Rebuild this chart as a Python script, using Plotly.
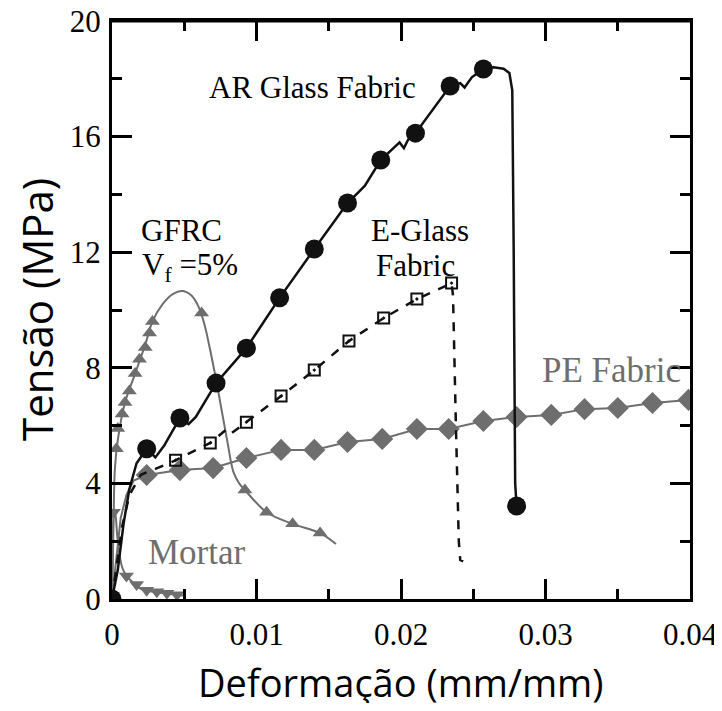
import plotly.graph_objects as go

# ---------------- data ----------------
ar_x = [0, 0.0004, 0.0008, 0.0012, 0.0017, 0.0024, 0.0030, 0.0036, 0.0047, 0.0053, 0.0058, 0.0072,
        0.0093, 0.0116, 0.0140, 0.0163, 0.0171, 0.0175, 0.0186, 0.0199, 0.0202, 0.0205, 0.0210,
        0.0234, 0.0241, 0.0244, 0.0249, 0.0257, 0.0264, 0.0271, 0.0275, 0.0277, 0.0278, 0.0279, 0.0280]
ar_y = [0, 1.0, 2.6, 3.8, 4.7, 5.2, 4.9, 5.3, 6.26, 6.05, 6.3, 7.47,
        8.68, 10.42, 12.11, 13.70, 14.1, 14.3, 15.19, 15.8, 15.6, 15.9, 16.12,
        17.75, 17.85, 17.7, 18.05, 18.34, 18.4, 18.35, 18.2, 17.6, 12.0, 4.0, 3.22]
ar_mx = [0, 0.0024, 0.0047, 0.0072, 0.0093, 0.0116, 0.0140, 0.0163, 0.0186, 0.0210, 0.0234, 0.0257, 0.0280]
ar_my = [0, 5.2, 6.26, 7.47, 8.68, 10.42, 12.11, 13.70, 15.19, 16.12, 17.75, 18.34, 3.22]

eg_x = [0, 0.0003, 0.0007, 0.0012, 0.0020, 0.0030, 0.0044, 0.0068, 0.0080, 0.0083, 0.0093,
        0.0117, 0.0140, 0.0164, 0.0188, 0.0211, 0.0235, 0.0236, 0.0238, 0.0240, 0.0241, 0.0243]
eg_y = [0, 1.0, 2.5, 3.6, 4.3, 4.5, 4.8, 5.40, 5.9, 5.75, 6.12,
        7.02, 7.92, 8.93, 9.72, 10.38, 10.93, 10.5, 6.0, 2.0, 1.35, 1.3]
eg_mx = [0.0044, 0.0068, 0.0093, 0.0117, 0.0140, 0.0164, 0.0188, 0.0211, 0.0235]
eg_my = [4.8, 5.40, 6.12, 7.02, 7.92, 8.93, 9.72, 10.38, 10.93]

pe_mx = [0.0024, 0.0047, 0.0070, 0.0093, 0.0117, 0.0140, 0.0163, 0.0187, 0.0211, 0.0233,
         0.0257, 0.0280, 0.0304, 0.0327, 0.0350, 0.0374, 0.0399]
pe_my = [4.29, 4.46, 4.53, 4.88, 5.16, 5.16, 5.43, 5.54, 5.88, 5.88,
         6.16, 6.30, 6.37, 6.57, 6.61, 6.78, 6.89]
pe_x = [0, 0.0003, 0.0006, 0.0010, 0.0015] + pe_mx + [0.0407]
pe_y = [0, 1.5, 2.8, 3.6, 4.1] + pe_my + [6.92]

gf_x = [0, 0.0001, 0.0002, 0.0004, 0.0009, 0.0016, 0.0023, 0.0028, 0.0035, 0.0042, 0.0049,
        0.0055, 0.0060, 0.0064, 0.0068, 0.0072, 0.0076, 0.0080, 0.0084, 0.0088, 0.0092,
        0.0107, 0.0125, 0.0144, 0.0155]
gf_y = [0, 2.5, 4.5, 5.5, 6.8, 7.8, 8.8, 9.6, 10.2, 10.55, 10.66,
        10.5, 10.1, 9.5, 8.6, 7.6, 6.5, 5.4, 4.4, 4.0, 3.77,
        3.0, 2.6, 2.28, 1.9]
gf_mx = [0.0003, 0.0004, 0.0007, 0.0009, 0.0012, 0.0016, 0.0019, 0.0023, 0.0026, 0.0028,
         0.0062, 0.0092, 0.0107, 0.0125, 0.0144]
gf_my = [5.2, 5.9, 6.4, 6.8, 7.2, 7.8, 8.3, 8.7, 9.2, 9.6,
         9.9, 3.77, 3.0, 2.6, 2.28]

mo_x = [0, 0.00005, 0.0001, 0.0002, 0.0004, 0.0007, 0.0010, 0.0014, 0.0020, 0.0028, 0.0036, 0.0044, 0.0050]
mo_y = [0, 1.5, 2.8, 3.1, 2.0, 1.1, 0.8, 0.6, 0.35, 0.25, 0.2, 0.15, 0.12]
mo_mx = [0.0, 0.0001, 0.0010, 0.0017, 0.0024, 0.0031, 0.0038, 0.0045]
mo_my = [0.1, 3.0, 0.8, 0.5, 0.3, 0.25, 0.2, 0.15]

x_ticks = [0, 0.01, 0.02, 0.03, 0.04]
x_labels = ["0", "0.01", "0.02", "0.03", "0.04"]
y_ticks = [0, 4, 8, 12, 16, 20]

x_title = "Deformação (mm/mm)"
y_title = "Tensão (MPa)"

GRAY = "#6e6e6e"
BLACK = "#111111"

fig = go.Figure()

# PE Fabric
fig.add_trace(go.Scatter(x=pe_x, y=pe_y, mode="lines", line=dict(color=GRAY, width=2)))
fig.add_trace(go.Scatter(x=pe_mx, y=pe_my, mode="markers",
                         marker=dict(symbol="diamond", size=17, color=GRAY)))
# GFRC
fig.add_trace(go.Scatter(x=gf_x, y=gf_y, mode="lines", line=dict(color=GRAY, width=2, shape="spline")))
fig.add_trace(go.Scatter(x=gf_mx, y=gf_my, mode="markers",
                         marker=dict(symbol="triangle-up", size=13, color=GRAY)))
# Mortar
fig.add_trace(go.Scatter(x=mo_x, y=mo_y, mode="lines", line=dict(color=GRAY, width=2, shape="spline")))
fig.add_trace(go.Scatter(x=mo_mx, y=mo_my, mode="markers",
                         marker=dict(symbol="triangle-down", size=13, color=GRAY)))
# E-Glass
fig.add_trace(go.Scatter(x=eg_x, y=eg_y, mode="lines", line=dict(color=BLACK, width=2.5, dash="dash")))
fig.add_trace(go.Scatter(x=eg_mx, y=eg_my, mode="markers",
                         marker=dict(symbol="square-open-dot", size=11, color=BLACK,
                                     line=dict(width=2, color=BLACK))))
# AR Glass
fig.add_trace(go.Scatter(x=ar_x, y=ar_y, mode="lines", line=dict(color=BLACK, width=2.5)))
fig.add_trace(go.Scatter(x=ar_mx, y=ar_my, mode="markers",
                         marker=dict(symbol="circle", size=19, color=BLACK)))

serif = "Liberation Serif, Times New Roman, serif"
ann = [
    dict(x=0.0139, y=17.7, text="AR Glass Fabric", color="black", size=31),
    dict(x=0.0048, y=12.75, text="GFRC", color="black", size=31),
    dict(x=0.0054, y=11.5, text="V<sub>f</sub> =5%", color="black", size=31),
    dict(x=0.0213, y=12.75, text="E-Glass", color="black", size=31),
    dict(x=0.0210, y=11.55, text="Fabric", color="black", size=31),
    dict(x=0.0346, y=7.89, text="PE Fabric", color=GRAY, size=35),
    dict(x=0.0059, y=1.6, text="Mortar", color=GRAY, size=35),
]
for a in ann:
    fig.add_annotation(x=a["x"], y=a["y"], text=a["text"], showarrow=False,
                       font=dict(family=serif, size=a["size"], color=a["color"]),
                       xanchor="center", yanchor="middle")

# axis titles
fig.add_annotation(xref="paper", yref="paper", x=0.5, y=0, yshift=-83, text=x_title,
                   showarrow=False, xanchor="center", yanchor="middle",
                   font=dict(family="Open Sans", size=38, color="black"))
fig.add_annotation(xref="paper", yref="paper", x=0, y=0.5, xshift=-76, text=y_title,
                   showarrow=False, xanchor="center", yanchor="middle", textangle=-90,
                   font=dict(family="Open Sans", size=42, color="black"))

# top edge of the frame
fig.add_shape(type="line", xref="paper", yref="paper", x0=0, x1=1, y0=1, y1=1,
              line=dict(color="black", width=3), layer="above")

axis_common = dict(
    showline=True, linecolor="black", linewidth=3, mirror="ticks",
    ticks="inside", ticklen=20, tickwidth=3, tickcolor="black",
    showgrid=False, zeroline=False, automargin=False, ticklabeloverflow="allow",
    tickfont=dict(family=serif, size=31, color="black"),
)
fig.update_xaxes(range=[0, 0.04], tickvals=x_ticks, ticktext=x_labels,
                 minor=dict(dtick=0.005, ticks="inside", ticklen=10, tickwidth=3, tickcolor="black"),
                 ticklabelstandoff=6,
                 **axis_common)
fig.update_yaxes(range=[0, 20], tickvals=y_ticks,
                 minor=dict(dtick=2, ticks="inside", ticklen=10, tickwidth=3, tickcolor="black"),
                 ticklabelstandoff=2,
                 **axis_common)

# the page body adds an 8px margin on every side, so the figure is sized to fit the window
fig.update_layout(
    width=706, height=695,
    margin=dict(l=104, r=24, t=13, b=104),
    paper_bgcolor="white", plot_bgcolor="white",
    showlegend=False,
)

fig.write_html("out.html")
